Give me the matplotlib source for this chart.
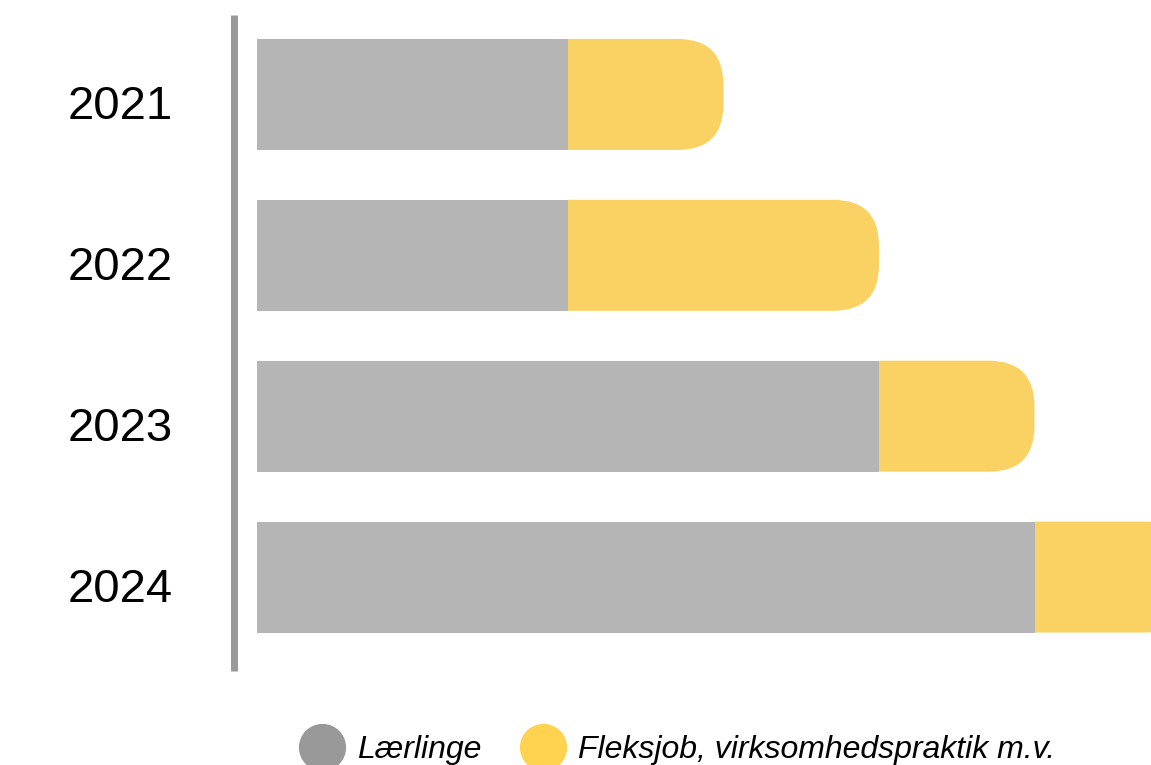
import matplotlib.pyplot as plt
import matplotlib.transforms as mtransforms
from matplotlib.patches import FancyBboxPatch, Rectangle
from matplotlib.lines import Line2D

years = ['2021', '2022', '2023', '2024']
laerlinge = [2, 2, 4, 5]
fleksjob = [1, 2, 1, 1]

gray = '#b5b5b5'
yellow = '#fad264'

plt.rcParams['font.family'] = ['Liberation Sans', 'DejaVu Sans']

fig = plt.figure(figsize=(11.51, 7.65), dpi=100)
W, H = 1151, 765
# axes: x from 257px to right edge, y from 15px to 671px
ax = fig.add_axes([257 / W, 1 - 671 / H, (W - 257) / W, (671 - 15) / H])

xmax = (W - 257) / 155.5
ax.set_xlim(0, xmax)
ax.set_ylim(3 + 94 / 161, -79.5 / 161)

h = 0.69
r = 46 / 155.5
aspect = 155.5 / 161
for i in range(len(years)):
    start = laerlinge[i] - 0.6
    tot = laerlinge[i] + fleksjob[i]
    p = FancyBboxPatch((start, i - h / 2), tot - start, h,
                       boxstyle='round,pad=0,rounding_size=%f' % r,
                       mutation_aspect=aspect, fc=yellow, ec='none')
    clip = Rectangle((laerlinge[i], -1), xmax, 6, transform=ax.transData)
    ax.add_patch(p)
    p.set_clip_path(clip)
ax.barh(range(len(years)), laerlinge, height=h, color=gray, zorder=3)

for s in ['top', 'right', 'bottom']:
    ax.spines[s].set_visible(False)
ax.spines['left'].set_position(('outward', 23 * 0.72))
ax.spines['left'].set_color('#999999')
ax.spines['left'].set_linewidth(5)
ax.spines['left'].set_capstyle('butt')
ax.set_xticks([])
ax.set_yticks(range(len(years)))
ax.set_yticklabels(years, fontsize=34)
ax.tick_params(axis='y', length=0, pad=44)
shift = mtransforms.ScaledTranslation(0, -8 / 100, fig.dpi_scale_trans)
for lab in ax.get_yticklabels():
    lab.set_transform(lab.get_transform() + shift)

handles = [Line2D([], [], marker='o', ls='none', markersize=33, color='#999999'),
           Line2D([], [], marker='o', ls='none', markersize=33, color='#ffd24f')]
fig.legend(handles, ['Lærlinge', 'Fleksjob, virksomhedspraktik m.v.'],
           loc='center', bbox_to_anchor=(679 / W, 1 - 750 / H), ncol=2,
           frameon=False, prop={'style': 'italic', 'size': 23},
           handletextpad=0.5, columnspacing=1.3, handlelength=1.2,
           borderaxespad=0, borderpad=0)

fig.savefig('out.png', dpi=100)
